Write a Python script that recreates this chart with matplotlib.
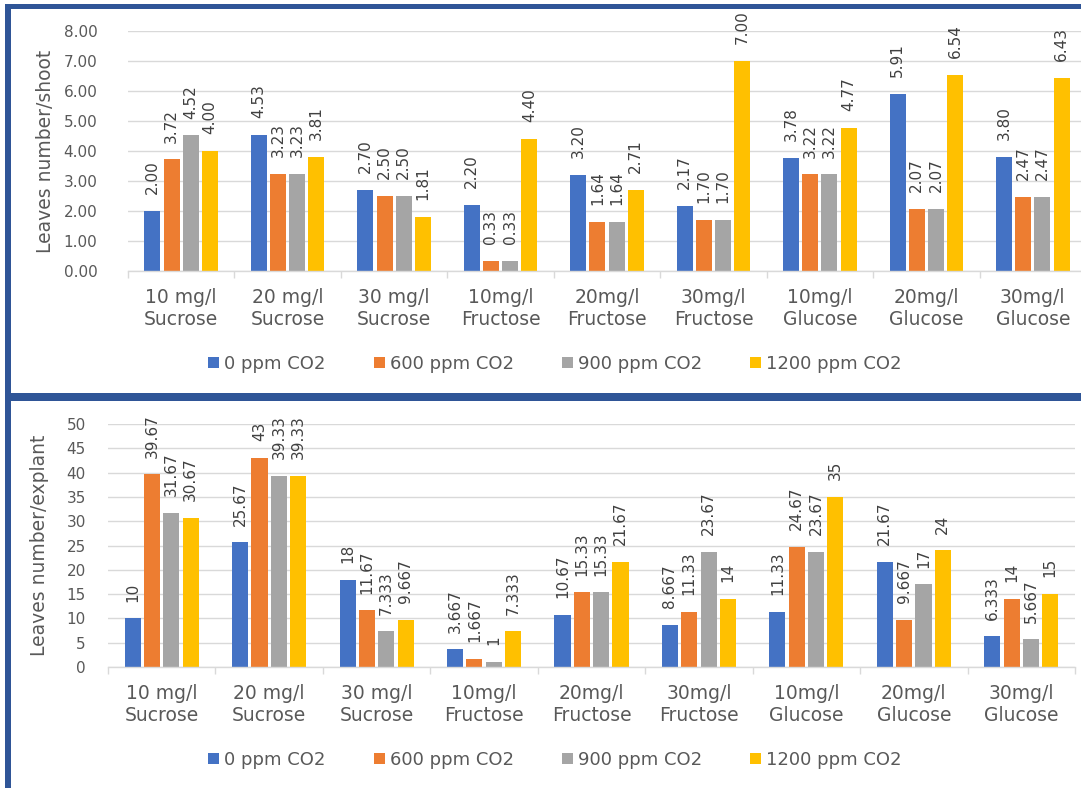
import matplotlib
matplotlib.use("Agg")
import matplotlib.pyplot as plt
from matplotlib.patches import Rectangle
import numpy as np

plt.rcParams['font.family'] = ['DejaVu Sans']

categories = ["10 mg/l\nSucrose", "20 mg/l\nSucrose", "30 mg/l\nSucrose",
              "10mg/l\nFructose", "20mg/l\nFructose", "30mg/l\nFructose",
              "10mg/l\nGlucose", "20mg/l\nGlucose", "30mg/l\nGlucose"]
series_names = ["0 ppm CO2", "600 ppm CO2", "900 ppm CO2", "1200 ppm CO2"]
colors = ["#4472C4", "#ED7D31", "#A5A5A5", "#FFC000"]

# Leaves number / shoot
shoot_0 = [2.00, 4.53, 2.70, 2.20, 3.20, 2.17, 3.78, 5.91, 3.80]
shoot_600 = [3.72, 3.23, 2.50, 0.33, 1.64, 1.70, 3.22, 2.07, 2.47]
shoot_900 = [4.52, 3.23, 2.50, 0.33, 1.64, 1.70, 3.22, 2.07, 2.47]
shoot_1200 = [4.00, 3.81, 1.81, 4.40, 2.71, 7.00, 4.77, 6.54, 6.43]

# Leaves number / explant
expl_0 = [10, 25.67, 18, 3.667, 10.67, 8.667, 11.33, 21.67, 6.333]
expl_600 = [39.67, 43, 11.67, 1.667, 15.33, 11.33, 24.67, 9.667, 14]
expl_900 = [31.67, 39.33, 7.333, 1, 15.33, 23.67, 23.67, 17, 5.667]
expl_1200 = [30.67, 39.33, 9.667, 7.333, 21.67, 14, 35, 24, 15]

W, H = 1081, 788
fig = plt.figure(figsize=(W / 100, H / 100), dpi=100)
fig.patch.set_facecolor("white")

def px_rect(x0, y0, x1, y1, color):
    fig.patches.append(Rectangle((x0 / W, 1 - y1 / H), (x1 - x0) / W, (y1 - y0) / H,
                                 transform=fig.transFigure, facecolor=color,
                                 edgecolor="none", zorder=0))

frame = "#2F5597"
px_rect(5, 4, 1081, 9, frame)
px_rect(5, 4, 11, 788, frame)
px_rect(5, 393, 1081, 401, frame)

tick_color = "#595959"
label_color = "#404040"
grid_color = "#D9D9D9"

def draw(ax, data, ymax, ystep, yfmt, lblfmt, ylabel, tickpad, ylabelpad):
    x = np.arange(len(categories))
    step, width = 0.18, 0.15
    for j, vals in enumerate(data):
        ax.bar(x + (j - 1.5) * step, vals, width, color=colors[j],
               label=series_names[j], zorder=3)
        for xi, v in zip(x + (j - 1.5) * step, vals):
            ax.annotate(lblfmt(v), (xi, v), xytext=(0, 12), textcoords="offset points",
                        rotation=90, ha="center", va="bottom", fontsize=11,
                        color=label_color, zorder=4)
    ax.set_xlim(-0.5, len(categories) - 0.5)
    ax.set_ylim(0, ymax)
    yt = np.arange(0, ymax + ystep / 2, ystep)
    ax.set_yticks(yt)
    ax.set_yticklabels([yfmt(v) for v in yt])
    ax.set_xticks(x)
    ax.set_xticklabels(categories, fontsize=13.5, color=tick_color, linespacing=1.25)
    ax.set_xticks(np.arange(-0.5, len(categories)), minor=True)
    ax.tick_params(axis="x", which="major", length=0, pad=12)
    ax.tick_params(axis="x", which="minor", length=5, color=grid_color, width=1)
    ax.tick_params(axis="y", length=0, pad=tickpad, labelsize=11, labelcolor=tick_color)
    ax.grid(axis="y", color=grid_color, linewidth=1, zorder=0)
    ax.set_axisbelow(True)
    for s in ["left", "right", "top"]:
        ax.spines[s].set_visible(False)
    ax.spines["bottom"].set_color(grid_color)
    ax.spines["bottom"].set_linewidth(1)
    ax.spines["bottom"].set_zorder(3)
    ax.set_ylabel(ylabel, fontsize=13.5, color=tick_color, labelpad=ylabelpad)
    ax.set_facecolor("none")

ax1 = fig.add_axes([128 / W, 1 - 271 / H, 958 / W, 240 / H])
draw(ax1, [shoot_0, shoot_600, shoot_900, shoot_1200], 8, 1,
     lambda v: f"{v:.2f}", lambda v: f"{v:.2f}", "Leaves number/shoot", 22, 6)

ax2 = fig.add_axes([108 / W, 1 - 667 / H, 967 / W, 243 / H])
draw(ax2, [expl_0, expl_600, expl_900, expl_1200], 50, 5,
     lambda v: f"{v:g}", lambda v: f"{v:g}", "Leaves number/explant", 16, 12.5)

for ax, yc in [(ax1, 364), (ax2, 760)]:
    ax.legend(loc="center", bbox_to_anchor=(555 / W, 1 - yc / H),
              bbox_transform=fig.transFigure, ncol=4, frameon=False,
              fontsize=13, handlelength=0.6, handleheight=0.6, handletextpad=0.3,
              columnspacing=2.65, labelcolor=tick_color)

fig.savefig("out.png", dpi=100)
